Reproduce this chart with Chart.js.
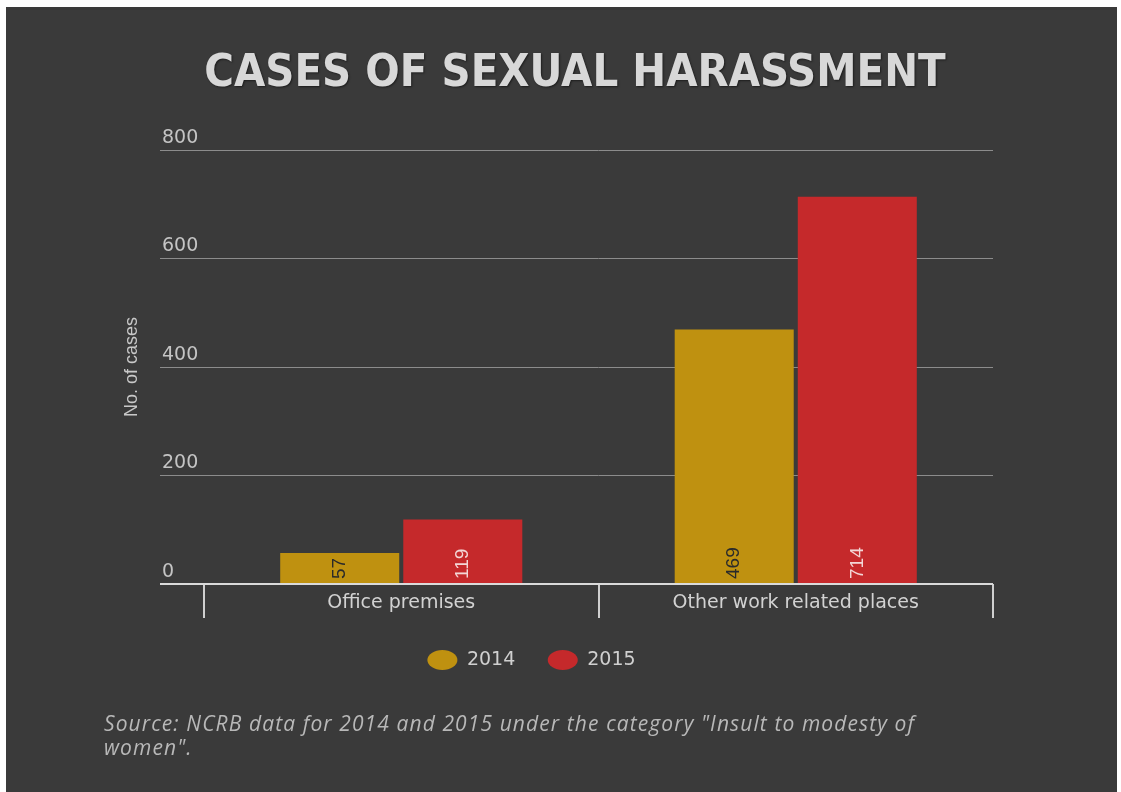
<!DOCTYPE html>
<html>
<head>
<meta charset="utf-8">
<script src="https://cdn.jsdelivr.net/npm/chart.js@4/dist/chart.umd.min.js"></script>
<style>
  html, body { margin: 0; padding: 0; background: #ffffff; }
  #frame {
    position: absolute; left: 6px; top: 7px;
    width: 1111px; height: 785px;
    background: #3a3a3a; overflow: hidden;
  }
  #title {
    position: absolute; left: 569px; top: 41px;
    transform: translateX(-50%);
    white-space: nowrap;
    font-family: "DejaVu Sans Condensed", "DejaVu Sans", sans-serif;
    font-stretch: condensed;
    font-weight: bold; font-size: 45px; line-height: 45px;
    color: #d8d8d8;
    text-shadow: 1px 1px 2px rgba(0,0,0,0.5);
    margin: 0;
  }
  #source {
    position: absolute; left: 98px; top: 704px;
    font-family: "Open Sans", sans-serif;
    font-style: italic; font-size: 21px; line-height: 24px;
    letter-spacing: 1.1px;
    color: #b8b8b8;
    white-space: nowrap;
  }
  canvas { position: absolute; left: 0; top: 0; }
</style>
</head>
<body>
<div id="frame">
  <canvas id="harassChart" width="1111" height="785"></canvas>
  <h1 id="title">CASES OF SEXUAL HARASSMENT</h1>
  <div id="source">Source: NCRB data for 2014 and 2015 under the category "Insult to modesty of<br>women".</div>
</div>

<script>
// chart data
const categories = ['Office premises', 'Other work related places'];
const years = ['2014', '2015'];
const cases2014 = [57, 469];
const cases2015 = [119, 714];
const yMax = 800;
const yStep = 200;

const barColors = ['#bf9110', '#c5292b'];
const valueColors = ['#2a2a2a', '#f3d6d6'];

const labelFont = '"DejaVu Sans", sans-serif';

// value labels written upward from the bottom of each bar
const barValueLabels = {
    id: 'barValueLabels',
    afterDatasetsDraw(chart) {
        const ctx = chart.ctx;
        chart.data.datasets.forEach((ds, i) => {
            chart.getDatasetMeta(i).data.forEach((bar, j) => {
                ctx.save();
                ctx.translate(bar.x, bar.base - 4);
                ctx.rotate(-Math.PI / 2);
                ctx.font = '19px "Liberation Sans Narrow", "Liberation Sans", sans-serif';
                ctx.fillStyle = valueColors[i];
                ctx.textAlign = 'left';
                ctx.textBaseline = 'middle';
                ctx.fillText(String(ds.data[j]), 0, 0);
                ctx.restore();
            });
        });
    }
};

document.addEventListener('DOMContentLoaded', () => {
    const ctx = document.getElementById('harassChart').getContext('2d');

    new Chart(ctx, {
        type: 'bar',
        data: {
            labels: categories,
            datasets: [
                { label: years[0], data: cases2014, backgroundColor: barColors[0], borderWidth: 0 },
                { label: years[1], data: cases2015, backgroundColor: barColors[1], borderWidth: 0 }
            ]
        },
        options: {
            responsive: false,
            animation: false,
            devicePixelRatio: 1,
            categoryPercentage: 0.624,
            barPercentage: 0.967,
            layout: {
                padding: { top: 143, left: 64, right: 124, bottom: 112.5 }
            },
            plugins: {
                legend: {
                    position: 'bottom',
                    labels: {
                        usePointStyle: true,
                        pointStyleWidth: 30,
                        boxHeight: 14.14,
                        padding: 32.5,
                        color: '#d0d0d0',
                        font: { family: labelFont, size: 19 }
                    }
                },
                tooltip: { enabled: false }
            },
            scales: {
                x: {
                    afterFit: (scale) => { scale.height = 34; },
                    border: { display: false },
                    grid: {
                        offset: true,
                        drawOnChartArea: false,
                        drawTicks: true,
                        tickLength: 34,
                        color: '#cfcfcf',
                        lineWidth: 2
                    },
                    ticks: {
                        padding: -26,
                        color: '#d2d2d2',
                        font: { family: labelFont, size: 19 }
                    }
                },
                y: {
                    min: 0,
                    max: yMax,
                    afterFit: (scale) => { scale.width = 134; },
                    border: { display: false },
                    grid: {
                        drawTicks: true,
                        tickLength: 44,
                        color: (c) => c.tick && c.tick.value === 0 ? '#dadada' : '#8c8c8c',
                        lineWidth: (c) => c.tick && c.tick.value === 0 ? 2 : 1
                    },
                    ticks: {
                        stepSize: yStep,
                        mirror: true,
                        padding: -42,
                        labelOffset: -12,
                        color: '#c4c4c4',
                        font: { family: labelFont, size: 19 }
                    },
                    title: {
                        display: true,
                        text: 'No. of cases',
                        color: '#c8c8c8',
                        padding: { top: 51, bottom: 0 },
                        font: { family: '"Liberation Sans Narrow", "Liberation Sans", sans-serif', size: 18 }
                    }
                }
            }
        },
        plugins: [barValueLabels]
    });
});
</script>
</body>
</html>
